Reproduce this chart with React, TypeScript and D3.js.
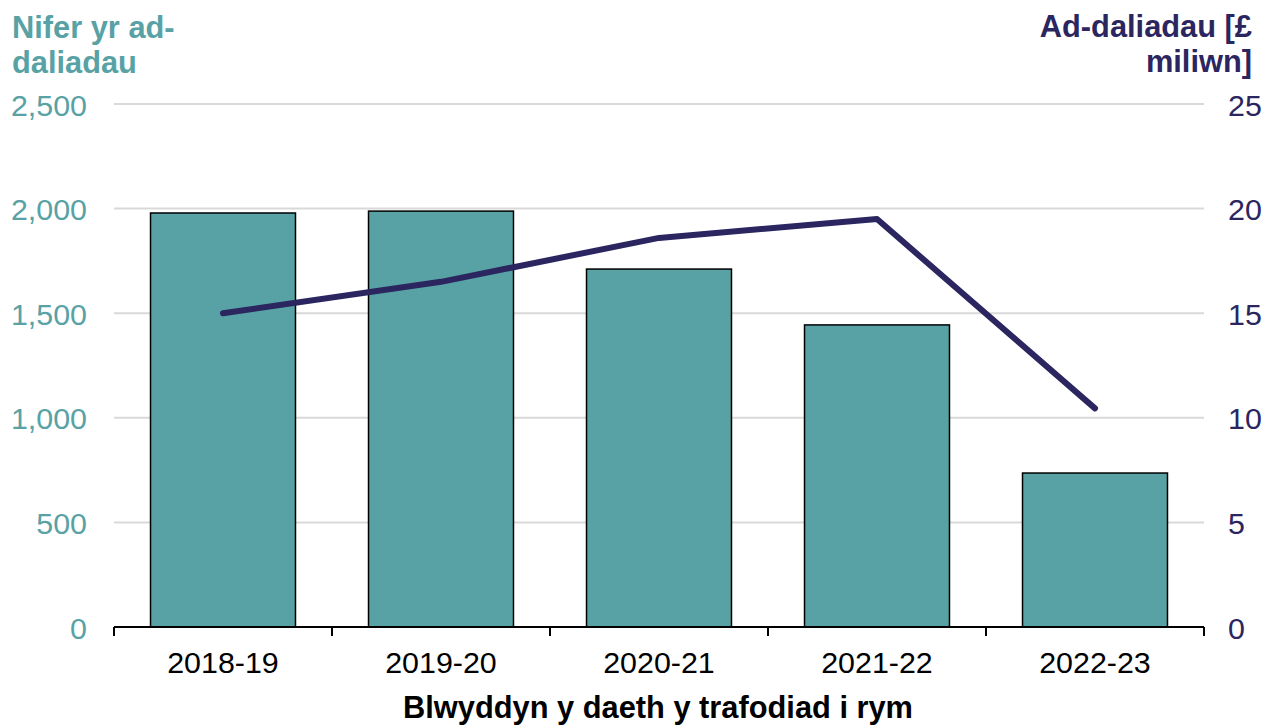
import React from "react";
import * as d3 from "d3";

const categories = ["2018-19", "2019-20", "2020-21", "2021-22", "2022-23"];
const countValues = [1979, 1988, 1711, 1444, 736];
const amountValues = [15.0, 16.5, 18.6, 19.5, 10.45];
const leftTicks = [0, 500, 1000, 1500, 2000, 2500];
const rightTicks = [0, 5, 10, 15, 20, 25];

const W = 1266;
const H = 726;
const M = { left: 114, right: 1204, top: 104, bottom: 627 };
const TEAL = "#58a2a5";
const NAVY = "#2b2560";
const FONT = "Liberation Sans, Arial, sans-serif";
const FS = 30.4;
const FSB = 30.8;

export default function App() {
  const x = d3.scaleBand<string>().domain(categories).range([M.left, M.right]).paddingInner(0.335).paddingOuter(0.1675);
  const band = d3.scaleBand<string>().domain(categories).range([M.left, M.right]).padding(0);
  const yL = d3.scaleLinear().domain([0, 2500]).range([M.bottom, M.top]);
  const yR = d3.scaleLinear().domain([0, 25]).range([M.bottom, M.top]);
  const line = d3
    .line<number>()
    .x((_, i) => (band(categories[i]) as number) + band.bandwidth() / 2)
    .y((d) => yR(d));
  const tickXs = categories.map((c) => band(c) as number).concat([M.right]);

  return (
    <svg width={W} height={H} style={{ position: "absolute", left: 0, top: 0 }} fontFamily={FONT}>
      <rect width={W} height={H} fill="#fff" />
      {leftTicks.slice(1).map((t) => (
        <line key={t} x1={M.left} x2={M.right} y1={yL(t)} y2={yL(t)} stroke="#d9d9d9" strokeWidth={2} />
      ))}
      {categories.map((c, i) => (
        <rect
          key={c}
          x={x(c)}
          y={yL(countValues[i])}
          width={x.bandwidth()}
          height={M.bottom - yL(countValues[i])}
          fill={TEAL}
          stroke="#000"
          strokeWidth={1.5}
        />
      ))}
      <line x1={M.left} x2={M.right} y1={M.bottom} y2={M.bottom} stroke="#000" strokeWidth={2} />
      {tickXs.map((tx, i) => (
        <line key={i} x1={tx} x2={tx} y1={M.bottom} y2={M.bottom + 9} stroke="#000" strokeWidth={2} />
      ))}
      <path d={line(amountValues) || ""} fill="none" stroke={NAVY} strokeWidth={6} strokeLinecap="round" strokeLinejoin="round" />
      {leftTicks.map((t) => (
        <text key={t} x={87} y={yL(t) + 11.5} textAnchor="end" fontSize={FS} fill={TEAL}>
          {d3.format(",")(t)}
        </text>
      ))}
      {rightTicks.map((t) => (
        <text key={t} x={1228} y={yR(t) + 11.5} textAnchor="start" fontSize={FS} fill={NAVY}>
          {t}
        </text>
      ))}
      {categories.map((c) => (
        <text key={c} x={(band(c) as number) + band.bandwidth() / 2} y={673} textAnchor="middle" fontSize={FS} fill="#000">
          {c}
        </text>
      ))}
      <text x={658} y={718} textAnchor="middle" fontSize={FSB} fontWeight="bold" fill="#000">
        Blwyddyn y daeth y trafodiad i rym
      </text>
      <text x={12} y={38} fontSize={FSB} fontWeight="bold" fill={TEAL}>
        Nifer yr ad-
      </text>
      <text x={12} y={73} fontSize={FSB} fontWeight="bold" fill={TEAL}>
        daliadau
      </text>
      <text x={1252} y={37} textAnchor="end" fontSize={FSB} fontWeight="bold" fill={NAVY}>
        Ad-daliadau [£
      </text>
      <text x={1252} y={72} textAnchor="end" fontSize={FSB} fontWeight="bold" fill={NAVY}>
        miliwn]
      </text>
    </svg>
  );
}
